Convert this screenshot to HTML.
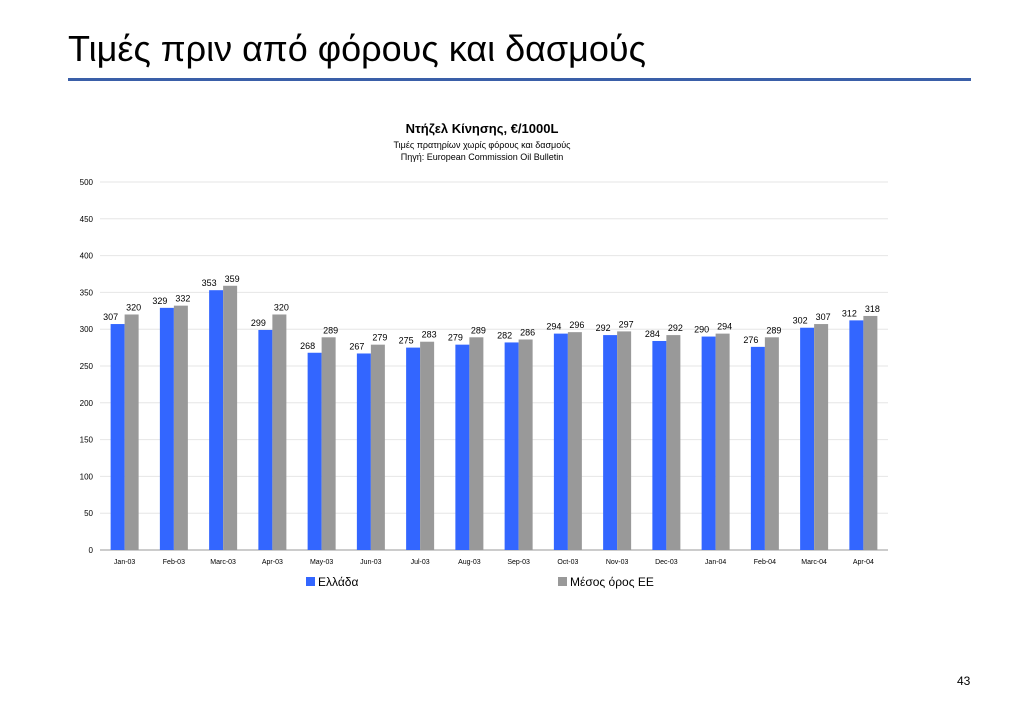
<!DOCTYPE html>
<html><head><meta charset="utf-8"><style>
body{margin:0;background:#fff;width:1023px;height:708px;overflow:hidden;font-family:"Liberation Sans",sans-serif;}
</style></head><body>
<div style="position:absolute;left:68px;top:28px;font-size:36px;color:#000;">Τιμές πριν από φόρους και δασμούς</div>
<div style="position:absolute;left:68px;top:78px;width:903px;height:3px;background:#3a5fa8;"></div>
<div style="position:absolute;left:957px;top:674px;font-size:12px;">43</div>
<svg id="chart" width="1023" height="708" style="position:absolute;left:0;top:0" font-family="Liberation Sans, sans-serif"></svg>
<script>
const categories=["Jan-03","Feb-03","Marc-03","Apr-03","May-03","Jun-03","Jul-03","Aug-03","Sep-03","Oct-03","Nov-03","Dec-03","Jan-04","Feb-04","Marc-04","Apr-04"];
const greece=[307,329,353,299,268,267,275,279,282,294,292,284,290,276,302,312];
const euAvg=[320,332,359,320,289,279,283,289,286,296,297,292,294,289,307,318];
const yTicks=[0,50,100,150,200,250,300,350,400,450,500];
const svg=document.getElementById('chart');
const NS='http://www.w3.org/2000/svg';
const x0=100,x1=888,y0=550,y1=182,ymax=500;
const bw=(x1-x0)/categories.length;
const y=v=>y0-(v/ymax)*(y0-y1);
function el(t,a,txt){const e=document.createElementNS(NS,t);for(const k in a)e.setAttribute(k,a[k]);if(txt!==undefined)e.textContent=txt;svg.appendChild(e);return e;}
let e;
e=el('text',{x:482,y:133,'text-anchor':'middle','font-size':13,'font-weight':'bold'},'Ντήζελ Κίνησης, €/1000L');


e=el('text',{x:482,y:148,'text-anchor':'middle','font-size':9},'Τιμές πρατηρίων χωρίς φόρους και δασμούς');


e=el('text',{x:482,y:160,'text-anchor':'middle','font-size':9},'Πηγή: European Commission Oil Bulletin');


yTicks.forEach(t=>{
 e=el('line',{x1:x0,x2:x1,y1:y(t),y2:y(t),stroke:t===0?'#999':'#e6e6e6','stroke-width':1});
 
 
 e=el('text',{x:93,y:y(t)+3,'text-anchor':'end','font-size':8},String(t));
 
 
});
categories.forEach((c,i)=>{
 const cx=x0+bw*(i+0.5);
 e=el('rect',{x:cx-14,y:y(greece[i]),width:14,height:y0-y(greece[i]),fill:'#3366ff'});
 
 
 e=el('rect',{x:cx,y:y(euAvg[i]),width:14,height:y0-y(euAvg[i]),fill:'#999999'});
 
 
 e=el('text',{x:cx-14,y:y(greece[i])-4,'text-anchor':'middle','font-size':9},String(greece[i]));
 
 
 e=el('text',{x:cx+9,y:y(euAvg[i])-4,'text-anchor':'middle','font-size':9},String(euAvg[i]));
 
 
 e=el('text',{x:cx,y:564,'text-anchor':'middle','font-size':7},c);
 
 
});
e=el('rect',{x:306,y:577,width:9,height:9,fill:'#3366ff'});


e=el('text',{x:318,y:586,'font-size':12},'Ελλάδα');


e=el('rect',{x:558,y:577,width:9,height:9,fill:'#999999'});


e=el('text',{x:570,y:586,'font-size':12},'Μέσος όρος ΕΕ');


</script>
</body></html>
